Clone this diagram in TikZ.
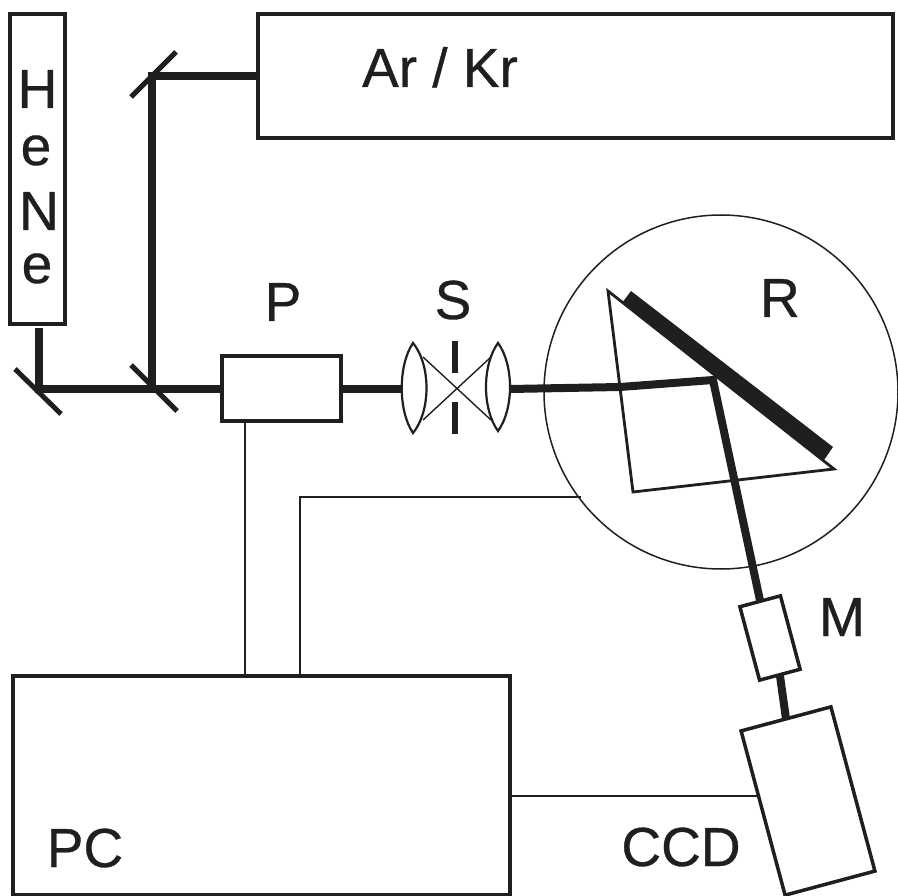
\documentclass[tikz,border=0pt]{standalone}
\usepackage{fontspec}
\setmainfont{Liberation Sans}
\newfontfamily\lblfont{Liberation Sans}[FakeBold=0.6]
\definecolor{ink}{gray}{0.12}
\tikzset{
  beam/.style={draw=ink,line width=8pt},
  outline/.style={draw=ink,line width=3.5pt,inner sep=0pt,outer sep=0pt,anchor=north west},
  tiltbox/.style={draw=ink,line width=3.5pt,inner sep=0pt,outer sep=0pt,rotate=15},
  thinline/.style={draw=ink,line width=1.4pt},
  wire/.style={draw=ink,line width=1.2pt},
  mirror/.style={draw=ink,line width=5pt},
  lbl/.style={inner sep=0pt,anchor=base,font=\lblfont\fontsize{55}{55}\selectfont,text=ink},
}
\begin{document}
\begin{tikzpicture}[x=1pt,y=-1pt]
\useasboundingbox (0,0) rectangle (898,896);
% boxes
\node[outline,minimum width=635pt,minimum height=124pt] (ar) at (258,14) {};
\node[outline,minimum width=55pt,minimum height=310pt] (hene) at (10,14) {};
\node[outline,minimum width=119pt,minimum height=65pt] (pol) at (222,356) {};
\node[outline,minimum width=497pt,minimum height=219pt] (pc) at (13,676) {};
\node[tiltbox,minimum width=42pt,minimum height=76pt] (mono) at (770,638) {};
\node[tiltbox,minimum width=93pt,minimum height=170pt] (ccd) at (808,801) {};
\node[draw=ink,line width=1.5pt,circle,minimum size=354pt,inner sep=0pt,outer sep=0pt] (rc) at (721,392) {};
% beam turning points
\coordinate (m1) at (39,389);
\coordinate (m2) at (152,389);
\coordinate (m3) at (152,76);
\coordinate (hs) at (39,328);
\coordinate (l1) at (402,389);
\coordinate (l2) at (510,389);
\coordinate (b) at (620,387);
\coordinate (g) at (713,380);
\coordinate (mt) at (mono.north);
\coordinate (mb) at (mono.south);
% beams
\draw[beam] (hs) -- (m1) -- (pol.west |- m1);
\draw[beam] (m2) -- (m3) -- (ar.west |- m3);
\draw[beam] (pol.east |- m1) -- (l1);
\draw[beam,line join=miter] (l2) -- (b) -- (g) -- (mt);
\draw[beam] (mb) -- (ccd.north);
% mirrors
\draw[mirror] (15,369) -- (61,414);
\draw[mirror] (131,365) -- (177,411);
\draw[mirror] (131,97) -- (176,52);
% lenses, slit, crossing rays
\draw[thinline,line width=2.2pt] (413,343) .. controls (398,365) and (398,411) .. (413,433) .. controls (431,411) and (431,365) .. (413,343) -- cycle;
\draw[thinline,line width=2.2pt] (498,343) .. controls (482,365) and (482,409) .. (498,431) .. controls (514,409) and (514,365) .. (498,343) -- cycle;
\draw[thinline] (423,357) -- (491,420);
\draw[thinline] (423,420) -- (491,357);
\draw[mirror,line width=6pt] (455,341) -- (455,373);
\draw[mirror,line width=6pt] (455,402) -- (455,434);
% prism and grating
\draw[draw=ink,line width=2.8pt,line join=miter] (608,291) -- (633,492) -- (834,469) -- cycle;
\fill[ink] (631,291) -- (622,303) -- (824,460) -- (833,447) -- cycle;
% wires
\draw[wire] (pol.south -| 245,0) -- (pc.north -| 245,0);
\draw[wire] (pc.north -| 300,0) -- (300,497) coordinate (w) -- (581,497);
\draw[wire] (pc.east |- 0,796) -- (758,796);
% labels
\node[lbl] (tar) at (440,87) {Ar / Kr};
\node[lbl] at (37.5,108) {H};
\node[lbl] at (36,165) {e};
\node[lbl] at (39,230) {N};
\node[lbl] at (37,283) {e};
\node[lbl] (tp) at (283,321) {P};
\node[lbl] (ts) at (453,319) {S};
\node[lbl] (tr) at (780,317) {R};
\node[lbl] (tm) at (842,636) {M};
\node[lbl] (tpc) at (85,867) {PC};
\node[lbl] (tccd) at (681,866) {CCD};
\end{tikzpicture}
\end{document}
